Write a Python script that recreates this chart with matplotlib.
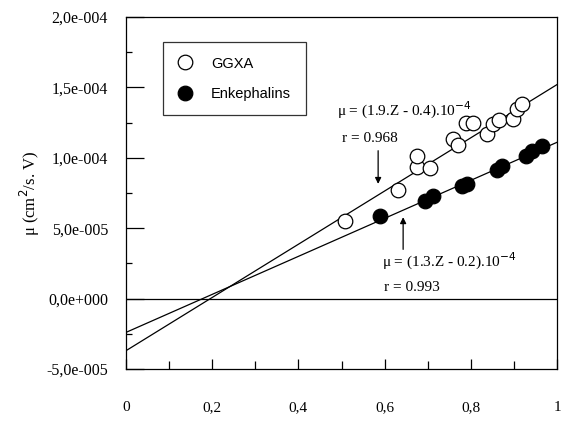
import matplotlib
matplotlib.use("Agg")
import matplotlib.pyplot as plt
import numpy as np
from matplotlib.ticker import MultipleLocator, FuncFormatter

# Data
ggxa_x = [0.508, 0.631, 0.675, 0.705, 0.675, 0.759, 0.770, 0.789, 0.805, 0.838, 0.852, 0.865, 0.898, 0.907, 0.919]
ggxa_y = [5.53e-5, 7.73e-5, 9.36e-5, 9.29e-5, 1.014e-4, 1.135e-4, 1.092e-4, 1.248e-4, 1.248e-4, 1.170e-4,
          1.241e-4, 1.270e-4, 1.277e-4, 1.348e-4, 1.383e-4]
enk_x = [0.589, 0.694, 0.712, 0.780, 0.791, 0.861, 0.872, 0.928, 0.942, 0.965]
enk_y = [5.89e-5, 6.95e-5, 7.30e-5, 8.01e-5, 8.16e-5, 9.15e-5, 9.43e-5, 1.014e-4, 1.050e-4, 1.085e-4]

# Fitted lines as drawn (intercept, slope)
ggxa_fit = (-3.7e-5, 1.89e-4)
enk_fit = (-2.4e-5, 1.35e-4)

serif = ["Liberation Serif", "DejaVu Serif"]
sans = ["Liberation Sans", "DejaVu Sans"]

fig = plt.figure(figsize=(5.61, 4.30), dpi=100)
ax = fig.add_axes([126/561, 61/430, 431/561, 352/430])

xs = np.array([0.0, 1.0])
ax.plot(xs, ggxa_fit[0] + ggxa_fit[1]*xs, color="black", lw=0.9, zorder=2)
ax.plot(xs, enk_fit[0] + enk_fit[1]*xs, color="black", lw=0.9, zorder=2)
ax.axhline(0, color="black", lw=0.9, zorder=1)

ax.plot(ggxa_x, ggxa_y, "o", ms=10.5, mfc="white", mec="black", mew=0.9, zorder=3, label="GGXA")
ax.plot(enk_x, enk_y, "o", ms=10.5, mfc="black", mec="black", mew=0.9, zorder=3, label="Enkephalins")

ax.set_xlim(0, 1)
ax.set_ylim(-5e-5, 2e-4)

ax.xaxis.set_major_locator(MultipleLocator(0.2))
ax.xaxis.set_minor_locator(MultipleLocator(0.1))
ax.yaxis.set_major_locator(MultipleLocator(5e-5))
ax.yaxis.set_minor_locator(MultipleLocator(2.5e-5))

def xfmt(v, p):
    if abs(v) < 1e-9:
        return "0"
    if abs(v-1) < 1e-9:
        return "1"
    return ("%.1f" % v).replace(".", ",")

def yfmt(v, p):
    s = "%.1e" % v
    mant, exp = s.split("e")
    sign = exp[0]
    e = int(exp[1:])
    return "%s,%se%s%03d" % (mant.split(".")[0], mant.split(".")[1], sign, e)

ax.xaxis.set_major_formatter(FuncFormatter(xfmt))
ax.yaxis.set_major_formatter(FuncFormatter(yfmt))

ax.tick_params(axis="x", which="major", direction="in", length=7, width=0.9, pad=23, labelsize=11)
ax.tick_params(axis="x", which="minor", direction="in", length=6, width=0.9)
ax.tick_params(axis="y", which="major", direction="in", length=13, width=0.9, pad=13, labelsize=11.5)
ax.tick_params(axis="y", which="minor", direction="in", length=4, width=0.9)
for lab in ax.get_xticklabels() + ax.get_yticklabels():
    lab.set_family(serif)
for sp in ax.spines.values():
    sp.set_linewidth(0.9)

ax.set_ylabel("μ (cm$^2$/s. V)", family=serif, fontsize=12, labelpad=3)

leg = ax.legend(loc="upper left", bbox_to_anchor=(37/431, 1-25/352), frameon=True, fancybox=False,
                edgecolor="black", prop={"family": sans, "size": 10.5}, borderpad=1.0,
                labelspacing=1.1, handlelength=1.0, handletextpad=1.3, borderaxespad=0)
leg.get_frame().set_linewidth(0.9)

ax.text(0.49, 1.335e-4, "μ = (1.9.Z - 0.4).10$^{-4}$", family=serif, fontsize=11, ha="left", va="center")
ax.text(0.50, 1.136e-4, "r = 0.968", family=serif, fontsize=11, ha="left", va="center")
ax.annotate("", xy=(0.585, 7.95e-5), xytext=(0.585, 1.07e-4),
            arrowprops=dict(arrowstyle="-|>", color="black", lw=0.9, mutation_scale=9))
ax.annotate("", xy=(0.643, 5.98e-5), xytext=(0.643, 3.3e-5),
            arrowprops=dict(arrowstyle="-|>", color="black", lw=0.9, mutation_scale=9))
ax.text(0.594, 2.63e-5, "μ = (1.3.Z - 0.2).10$^{-4}$", family=serif, fontsize=11, ha="left", va="center")
ax.text(0.598, 7.8e-6, "r = 0.993", family=serif, fontsize=11, ha="left", va="center")

fig.savefig("out.png", dpi=100)
